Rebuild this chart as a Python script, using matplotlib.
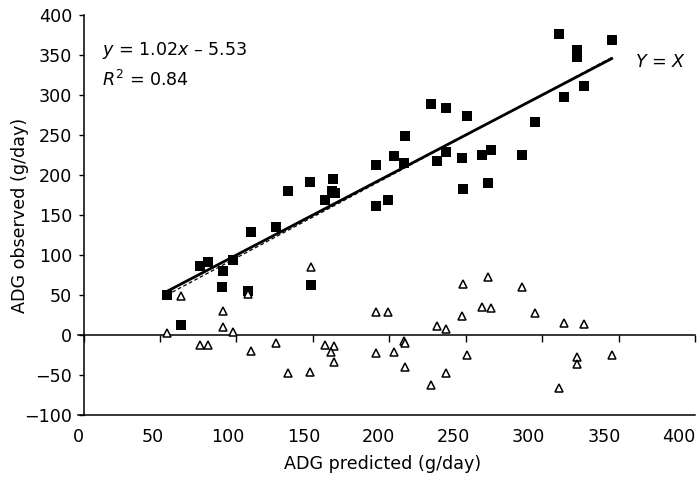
import matplotlib
matplotlib.use("Agg")
import matplotlib.pyplot as plt
import numpy as np

plt.rcParams["font.family"] = ["DejaVu Sans"]
plt.rcParams["font.size"] = 12.6
plt.rcParams["mathtext.fontset"] = "dejavusans"

# Observed vs predicted ADG (filled squares)
pred_obs_x = [54.4, 63.7, 76.1, 81.2, 91.4, 90.7, 97.9, 107.7, 109.3, 125.7,
              133.6, 148.8, 148.1, 157.9, 162.3, 164.5, 163.4, 191.3, 191.3, 199.3,
              203.3, 209.8, 210.3, 227.1, 231.0, 236.9, 236.9, 247.7, 248.4, 251.0,
              260.8, 264.4, 266.5, 286.6, 295.3, 311.0, 314.3, 322.6, 323.0, 327.4,
              345.5]
observed_y = [50.0, 12.5, 86.6, 91.6, 80.4, 59.6, 93.8, 55.4, 128.4, 134.6,
              180.4, 62.5, 191.6, 168.8, 180.4, 177.1, 195.0, 212.5, 161.3, 168.8,
              223.8, 215.4, 248.8, 288.4, 217.9, 283.4, 228.4, 221.6, 182.5, 274.1,
              225.0, 190.4, 231.3, 225.0, 265.9, 375.9, 297.1, 356.3, 347.9, 311.3,
              368.8]

# Residuals (open triangles)
pred_res_x = [54.8, 63.7, 76.1, 81.2, 91.0, 91.4, 97.9, 107.7, 109.3, 125.9,
              133.5, 148.8, 148.1, 157.9, 164.0, 161.8, 163.8, 191.3, 199.3, 191.3,
              203.3, 209.8, 210.3, 210.3, 231.0, 236.9, 227.1, 236.9, 248.0, 247.7,
              251.0, 264.4, 260.8, 266.5, 286.6, 295.3, 314.4, 327.4, 323.0, 322.6,
              345.5, 311.2]
residual_y = [2.9, 49.1, -12.5, -12.5, 30.4, 10.4, 4.1, 50.9, -19.6, -10.4,
              -47.9, 85.4, -45.9, -12.5, -13.4, -20.9, -34.1, 28.4, 28.4, -22.9,
              -21.6, -7.1, -9.6, -39.6, 11.6, 7.1, -62.5, -47.9, 63.4, 24.1,
              -25.0, 72.1, 34.6, 33.4, 59.6, 27.1, 14.6, 13.8, -27.1, -36.6,
              -25.0, -66.6]

# Regression reported on the chart
reg_slope = 1.02
reg_intercept = -5.53

x_ticks = [0, 50, 100, 150, 200, 250, 300, 350, 400]
y_ticks = [-100, -50, 0, 50, 100, 150, 200, 250, 300, 350, 400]

fig = plt.figure(figsize=(6.99, 4.82), dpi=100)
ax = fig.add_axes([0.1116, 0.139, 0.8827, 0.8299])
ax.set_xlim(-3.66, 400)
ax.set_ylim(-100, 400)

for s in ("top", "right"):
    ax.spines[s].set_visible(False)
ax.spines["bottom"].set_position(("data", 0))
ax.spines["left"].set_position(("data", 0))
for s in ("left", "bottom"):
    ax.spines[s].set_linewidth(1.1)

ax.set_xticks(x_ticks)
ax.tick_params(axis="x", direction="out", length=4.8, width=1.0,
               labelbottom=False)
ax.set_yticks(y_ticks)
ax.tick_params(axis="y", direction="out", length=3.8, width=1.0, pad=4.5,
               labelsize=12.6)

# Bottom label axis (labels slightly compressed as in the original export)
def fwd(x):
    return (np.asarray(x) + 3.66) / 0.983

def inv(v):
    return 0.983 * np.asarray(v) - 3.66

sec = ax.secondary_xaxis("bottom", functions=(fwd, inv))
sec.set_xticks(x_ticks)
sec.tick_params(axis="x", length=0, pad=9.4, labelsize=12.6)
sec.spines["bottom"].set_linewidth(1.1)

# Data
ax.plot(pred_obs_x, observed_y, "s", ms=7.9, mew=0, color="black", zorder=3)

line_x = np.array([min(pred_obs_x), max(pred_obs_x)])
ax.plot(line_x, line_x, color="black", lw=2.0, zorder=4)
ax.plot(line_x, reg_slope * line_x + reg_intercept, color="black", lw=0.9,
        ls=(0, (3, 2)), zorder=4)

ax.plot(pred_res_x, residual_y, "^", ms=6.2, mfc="white", mec="black",
        mew=1.1, zorder=5)

ax.text(11.8, 350, r"$y$ = 1.02$x$ – 5.53", ha="left", va="baseline",
        fontsize=12.6)
ax.text(11.8, 311.3, r"$R^{2}$ = 0.84", ha="left", va="baseline",
        fontsize=12.6)
ax.text(360.7, 335.4, r"$Y$ = $X$", ha="left", va="baseline", fontsize=12.6)

ax.set_ylabel("ADG observed (g/day)", fontsize=12.6)
ax.yaxis.set_label_coords(-0.0794, 0.5)
ax.set_xlabel("ADG predicted (g/day)", fontsize=12.6)
ax.xaxis.set_label_coords(0.494, -0.1)

fig.savefig("out.png", dpi=100)
